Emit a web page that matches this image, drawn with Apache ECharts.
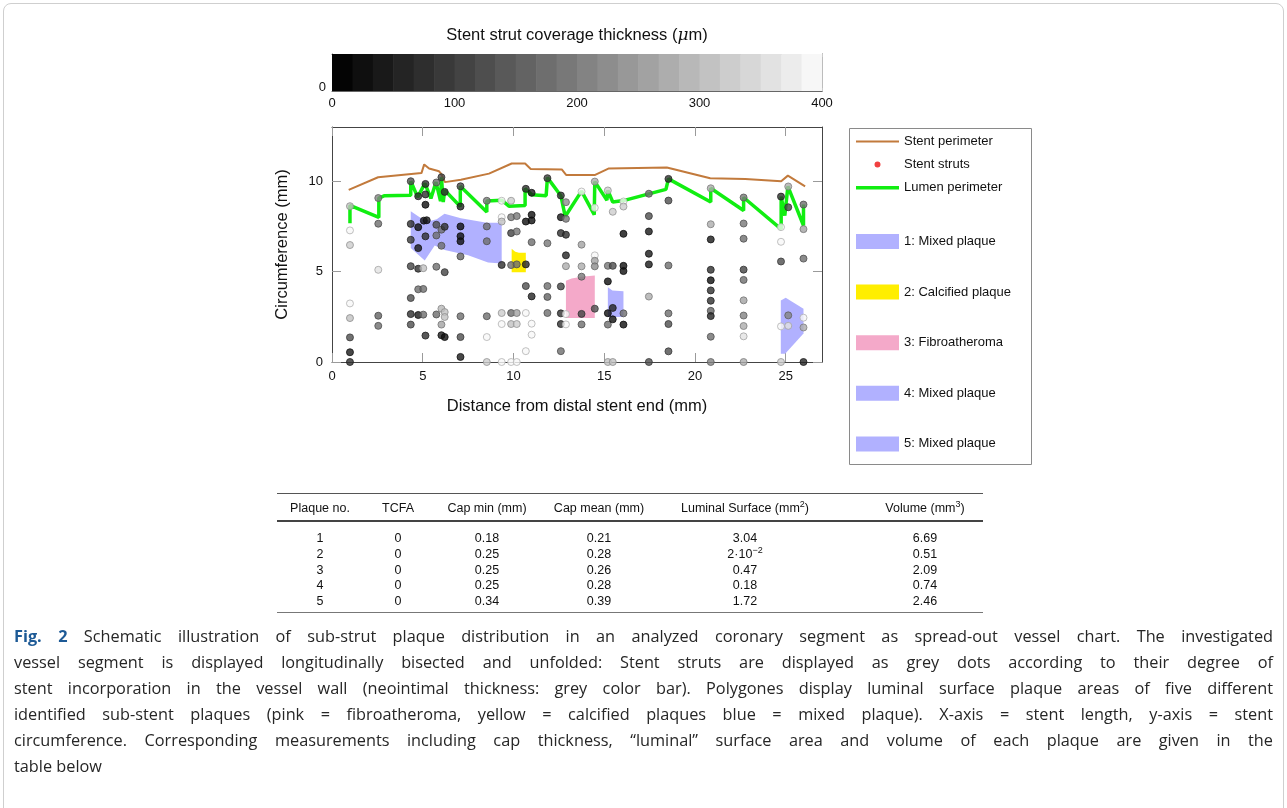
<!DOCTYPE html>
<html><head><meta charset="utf-8">
<script src="https://cdn.jsdelivr.net/npm/echarts@6/dist/echarts.min.js"></script>
<style>
html,body{margin:0;padding:0;background:#fff;}
#wrap{position:relative;width:1287px;height:808px;overflow:hidden;background:#fff;}
#frame{position:absolute;left:3px;top:3px;width:1279px;height:840px;border:1px solid #cfcfcf;border-radius:8px;}
#chart{position:absolute;left:0;top:0;width:1287px;height:808px;}
.cell{position:absolute;transform:translate(-50%,-50%);white-space:nowrap;font-family:"Liberation Sans",Arial,sans-serif;font-size:12.5px;color:#111;}
.cell sup{font-size:9px;vertical-align:5px;line-height:0;}
.rule{position:absolute;left:277px;width:706px;}
#caption{position:absolute;left:14px;top:623px;width:1259px;font-family:"Open Sans",sans-serif;font-size:16.3px;line-height:26px;color:#262626;}
#caption .ln{text-align:justify;text-align-last:justify;}
#caption .last{text-align:left;text-align-last:left;}
#caption b{color:#1d5a96;}
</style></head>
<body>
<div id="wrap">
<div id="frame"></div>
<div id="chart"></div>
<div id="table"></div>
<div id="caption"></div>
</div>
<script>
// ---------- data ----------
// stent struts: [distance (mm), circumference (mm), coverage thickness (um)]
const struts = [
 [0.99,8.62,300],[0.99,7.28,390],[0.99,6.47,320],[0.99,3.24,390],[0.99,2.43,300],[0.99,1.36,120],[0.99,0.54,40],[0.99,0,80],
 [2.55,9.07,200],[2.55,7.65,170],[2.55,5.1,350],[2.55,2.56,150],[2.55,2.0,170],
 [4.34,10.0,120],[4.34,7.64,80],[4.34,6.76,90],[4.34,5.3,100],[4.34,3.54,120],[4.34,2.65,80],[4.34,2.07,120],
 [4.75,9.17,80],[4.75,7.46,30],[4.75,6.3,40],[4.75,5.16,80],[4.75,4.02,170],[4.75,2.6,40],
 [5.03,5.19,300],[5.03,4.04,170],[5.03,2.62,170],
 [5.15,9.85,80],[5.15,9.27,80],[5.15,8.7,30],[5.06,7.82,40],[5.22,7.84,40],[5.15,6.95,80],[5.15,1.46,80],
 [5.75,9.93,170],[5.75,7.59,120],[5.75,7.0,170],[5.75,5.27,170],[5.75,2.63,180],
 [6.03,10.22,100],[6.03,7.32,170],[6.03,6.43,170],[6.03,2.95,290],[6.03,2.07,260],[6.03,1.48,40],
 [6.21,9.41,70],[6.21,7.48,80],[6.21,4.97,110],[6.21,2.76,300],[6.21,2.49,300],[6.21,1.38,30],
 [7.08,9.72,110],[7.08,8.6,60],[7.08,7.5,30],[7.08,6.96,30],[7.08,6.68,30],[7.08,5.84,150],[7.08,2.53,170],[7.08,1.38,120],[7.08,0.28,40],
 [8.53,8.92,190],[8.53,7.5,170],[8.53,6.68,170],[8.53,2.53,170],[8.53,1.38,390],[8.53,0,320],
 [9.35,8.92,390],[9.35,8.01,390],[9.35,7.77,300],[9.35,5.37,80],[9.35,2.71,320],[9.35,2.1,390],[9.35,0,390],
 [9.87,8.92,320],[9.87,8.01,190],[9.87,7.13,100],[9.87,5.36,170],[9.87,2.71,180],[9.87,2.1,300],[9.87,0,390],
 [10.18,8.07,190],[10.18,7.22,190],[10.18,5.4,170],[10.18,2.71,260],[10.18,2.1,320],[10.18,0,390],
 [10.68,9.58,80],[10.68,7.77,30],[10.68,5.4,50],[10.68,4.2,130],[10.68,2.71,390],[10.68,0.6,390],
 [11.0,9.36,40],[11.0,8.14,30],[11.0,7.83,30],[11.0,6.63,170],[11.0,3.63,60],[11.0,2.12,390],[11.0,1.51,390],
 [11.87,10.17,90],[11.87,6.57,190],[11.87,4.2,170],[11.87,3.6,150],[11.87,2.71,180],
 [12.61,9.21,80],[12.61,8.01,40],[12.61,7.13,80],[12.61,4.18,100],[12.61,2.69,80],[12.61,2.1,80],[12.61,0.6,170],
 [12.89,8.84,220],[12.89,7.92,190],[12.89,7.04,80],[12.89,5.9,50],[12.89,5.3,270],[12.89,2.65,390],[12.89,2.08,390],
 [13.75,9.43,390],[13.75,6.49,260],[13.75,5.29,270],[13.75,4.72,190],[13.75,2.66,100],[13.75,2.08,180],
 [14.48,9.98,270],[14.48,8.53,390],[14.48,5.9,390],[14.48,5.6,250],[14.48,5.29,230],[14.48,2.95,120],
 [15.2,9.49,320],[15.2,5.32,190],[15.2,4.46,30],[15.2,2.7,30],[15.2,2.07,170],[15.2,0,300],
 [15.47,8.31,320],[15.47,5.32,120],[15.47,2.99,60],[15.47,2.36,30],[15.47,0,300],
 [16.06,8.88,390],[16.06,8.6,320],[16.06,7.09,30],[16.06,5.32,30],[16.06,5.03,30],[16.06,2.69,170],[16.06,2.07,30],
 [17.46,9.31,170],[17.46,8.07,120],[17.46,7.22,40],[17.46,5.99,40],[17.46,5.4,40],[17.46,3.62,280],[17.46,0,120],
 [18.54,10.13,80],[18.54,8.93,120],[18.54,5.34,170],[18.54,2.69,170],[18.54,2.1,130],[18.54,0.59,120],
 [20.87,9.61,270],[20.87,7.62,270],[20.87,6.78,40],[20.87,5.1,70],[20.87,4.52,30],[20.87,3.96,70],[20.87,3.39,70],[20.87,2.83,150],[20.87,2.54,60],[20.87,1.4,170],[20.87,0,200],
 [22.68,9.1,190],[22.68,7.66,190],[22.68,6.82,170],[22.68,5.11,110],[22.68,4.54,170],[22.68,3.41,260],[22.68,2.57,200],[22.68,1.99,280],[22.68,1.42,350],[22.68,0,280],
 [24.74,9.15,80],[24.74,7.46,390],[24.74,6.65,390],[24.74,5.56,130],[24.74,1.97,390],[24.74,0,320],
 [25.14,9.71,280],[25.14,8.56,100],[25.14,2.58,200],[25.14,2.0,350],
 [25.98,8.71,170],[25.98,7.35,260],[25.98,5.72,170],[25.98,2.45,390],[25.98,1.91,270],[25.98,0,60]
];
const stentPerimeter = [[0.92,9.52],[2.54,10.22],[4.93,10.45],[5.08,10.93],[5.35,10.7],[5.9,10.55],[6.02,10.4],[6.22,9.95],[7.1,10.08],[8.65,10.42],[9.9,10.98],[10.64,10.98],[10.95,10.68],[12.66,10.65],[12.9,10.35],[14.5,10.35],[15.23,10.7],[18.45,10.76],[20.84,10.17],[22.77,10.13],[24.75,10.0],[25.12,10.31],[26.07,9.72]];
const lumenPerimeter = [[0.99,7.68],[0.99,8.66],[2.58,8.0],[2.58,9.07],[2.9,9.2],[4.34,9.22],[4.34,10.0],[4.72,9.12],[5.12,9.88],[5.45,9.05],[5.73,9.95],[5.98,8.9],[6.03,10.22],[6.13,8.85],[6.21,9.5],[7.07,8.6],[7.07,9.72],[8.53,8.3],[8.53,8.9],[9.35,8.95],[9.75,8.62],[10.64,8.66],[10.64,9.6],[11.0,9.25],[11.8,9.2],[11.87,10.2],[12.61,9.2],[12.85,8.05],[13.75,9.45],[14.45,8.15],[14.48,9.98],[15.15,8.95],[15.2,9.49],[15.47,8.85],[16.06,8.93],[17.46,9.3],[18.4,9.55],[18.54,10.13],[20.87,8.85],[20.87,9.61],[22.68,8.38],[22.68,9.1],[24.75,7.35],[24.75,9.15],[24.95,8.1],[25.12,9.71],[25.98,7.55],[25.98,8.71]];
const plaque1 = [[4.34,8.34],[4.85,8.0],[5.4,7.8],[5.77,7.9],[6.2,8.2],[7.1,7.95],[8.53,7.7],[9.35,7.7],[9.35,5.45],[8.6,5.5],[7.5,5.9],[6.21,6.2],[5.66,6.45],[5.11,5.62],[4.34,6.3]];
const plaque2 = [[9.9,6.27],[10.1,6.1],[10.3,6.05],[10.68,6.05],[10.68,4.97],[9.9,4.97]];
const plaque3 = [[12.89,4.5],[13.2,4.62],[13.75,4.72],[14.48,4.78],[14.48,2.43],[12.89,2.43]];
const plaque4 = [[15.2,4.14],[15.45,3.95],[16.06,3.92],[16.06,2.49],[15.2,2.49]];
const plaque5 = [[24.73,3.4],[25.0,3.55],[25.98,2.95],[25.98,1.57],[24.97,0.46],[24.73,0.46]];
const plaqueNames = ['1: Mixed plaque','2: Calcified plaque','3: Fibroatheroma','4: Mixed plaque','5: Mixed plaque'];
const xTicks = [0,5,10,15,20,25];
const yTicks = [0,5,10];
const cbTicks = [0,100,200,300,400];
const tableHeader = ['Plaque no.','TCFA','Cap min (mm)','Cap mean (mm)','Luminal Surface (mm<sup>2</sup>)','Volume (mm<sup>3</sup>)'];
const tableRows = [
 ['1','0','0.18','0.21','3.04','6.69'],
 ['2','0','0.25','0.28','2\u00b710<sup>\u22122</sup>','0.51'],
 ['3','0','0.25','0.26','0.47','2.09'],
 ['4','0','0.25','0.28','0.18','0.74'],
 ['5','0','0.34','0.39','1.72','2.46']
];
const captionLines = [
 '<b>Fig. 2</b> Schematic illustration of sub-strut plaque distribution in an analyzed coronary segment as spread-out vessel chart. The investigated',
 'vessel segment is displayed longitudinally bisected and unfolded: Stent struts are displayed as grey dots according to their degree of',
 'stent incorporation in the vessel wall (neointimal thickness: grey color bar). Polygones display luminal surface plaque areas of five different',
 'identified sub-stent plaques (pink = fibroatheroma, yellow = calcified plaques blue = mixed plaque). X-axis = stent length, y-axis = stent',
 'circumference. Corresponding measurements including cap thickness, \u201cluminal\u201d surface area and volume of each plaque are given in the',
 'table below'
];

// ---------- colour map (24-step grey) ----------
const CB_MAX = 400, CB_STEPS = 24;
function binOf(t){ return Math.max(0, Math.min(CB_STEPS-1, Math.floor(t/CB_MAX*CB_STEPS))); }
function greyLevel(bin){ return Math.round(4 + bin*(247-4)/(CB_STEPS-1)); }
function rgb(g){ return 'rgb('+g+','+g+','+g+')'; }
const cbData = [];
for (let i=0;i<CB_STEPS;i++) cbData.push([i*CB_MAX/CB_STEPS,(i+1)*CB_MAX/CB_STEPS,i]);

const FONT = '"Liberation Sans", Arial, sans-serif';
const strutData = struts.map(s => {
  const g = greyLevel(binOf(s[2]));
  return {value:s, itemStyle:{color:rgb(g), borderColor:rgb(Math.round(g*0.72)), borderWidth:1}};
});
function polySeries(name, pts, color){
  return {
    name, type:'custom', xAxisIndex:0, yAxisIndex:0, z:1,
    itemStyle:{color},
    encode:{x:0,y:1},
    data: pts,
    renderItem(params, api){
      if (params.dataIndex !== 0) return null;
      return {type:'polygon', shape:{points: pts.map(p=>api.coord(p))}, style:{fill:color}};
    }
  };
}
const plaqueColors = ['#b1b1ff','#ffee00','#f4a9c9','#b1b1ff','#b1b1ff'];
const plaques = [plaque1,plaque2,plaque3,plaque4,plaque5];
const STENT_COLOR = '#c27a3c', LUMEN_COLOR = '#11ee11';

const mainAxisLine = {show:true, onZero:false, lineStyle:{color:'#444', width:1}};
const cbAxisLine = {show:true, onZero:false, lineStyle:{color:'#666', width:1}};
const chart = echarts.init(document.getElementById('chart'), null, {renderer:'canvas'});
chart.setOption({
  animation:false,
  textStyle:{fontFamily:FONT},
  grid:[
    {left:332, top:127, width:490, height:235},
    {left:332, top:54, width:490, height:37}
  ],
  xAxis:[
    {gridIndex:0, type:'value', min:0, max:27, position:'bottom',
     axisLine:mainAxisLine, splitLine:{show:false},
     axisTick:{show:true, inside:true, length:9, customValues:xTicks, lineStyle:{color:'#9a9a9a'}},
     axisLabel:{customValues:xTicks, fontSize:13, color:'#111', margin:8, fontFamily:FONT},
     name:'Distance from distal stent end (mm)', nameLocation:'middle', nameGap:36,
     nameTextStyle:{fontSize:16.5, color:'#111', fontFamily:FONT}},
    {gridIndex:0, type:'value', min:0, max:27, position:'top',
     axisLine:mainAxisLine, splitLine:{show:false},
     axisTick:{show:true, inside:true, length:9, customValues:xTicks, lineStyle:{color:'#9a9a9a'}},
     axisLabel:{show:false}},
    {gridIndex:1, type:'value', min:0, max:CB_MAX, position:'bottom',
     axisLine:cbAxisLine, splitLine:{show:false},
     axisTick:{show:true, inside:true, length:3, customValues:cbTicks, lineStyle:{color:'#888'}},
     axisLabel:{customValues:cbTicks, fontSize:13, color:'#111', margin:6, fontFamily:FONT}},
    {gridIndex:1, type:'value', min:0, max:CB_MAX, position:'top',
     axisLine:cbAxisLine, splitLine:{show:false},
     axisTick:{show:true, inside:true, length:3, customValues:cbTicks, lineStyle:{color:'#888'}},
     axisLabel:{show:false},
     name:'{a|Stent strut coverage thickness (}{b|\u03bc}{a|m)}', nameLocation:'middle', nameGap:10,
     nameTextStyle:{rich:{a:{fontSize:16.5,color:'#111',fontFamily:FONT}, b:{fontSize:17,color:'#111',fontStyle:'italic',fontFamily:'"DejaVu Serif", serif'}}}}
  ],
  yAxis:[
    {gridIndex:0, type:'value', min:0, max:13, position:'left',
     axisLine:mainAxisLine, splitLine:{show:false},
     axisTick:{show:true, inside:true, length:9, customValues:yTicks, lineStyle:{color:'#9a9a9a'}},
     axisLabel:{customValues:yTicks, fontSize:13, color:'#111', margin:9, fontFamily:FONT},
     name:'Circumference (mm)', nameLocation:'middle', nameGap:41,
     nameTextStyle:{fontSize:16.5, color:'#111', fontFamily:FONT}},
    {gridIndex:0, type:'value', min:0, max:13, position:'right',
     axisLine:mainAxisLine, splitLine:{show:false},
     axisTick:{show:true, inside:true, length:9, customValues:yTicks, lineStyle:{color:'#9a9a9a'}},
     axisLabel:{show:false}},
    {gridIndex:1, type:'value', min:-0.1, max:1, position:'left',
     axisLine:cbAxisLine, splitLine:{show:false},
     axisTick:{show:false},
     axisLabel:{customValues:[0], fontSize:13, color:'#111', margin:6, fontFamily:FONT}},
    {gridIndex:1, type:'value', min:-0.1, max:1, position:'right',
     axisLine:cbAxisLine, splitLine:{show:false},
     axisTick:{show:false}, axisLabel:{show:false}}
  ],
  legend:[
    {data:[
       {name:'Stent perimeter', icon:'path://M0,0L43,0L43,2L0,2Z', itemStyle:{color:STENT_COLOR}},
       {name:'Stent struts', icon:'path://M0,0L0.01,0L0.01,0.01ZM43,14L42.99,14L42.99,13.99ZM18.5,7A3,3,0,1,1,24.5,7A3,3,0,1,1,18.5,7Z', itemStyle:{color:'#ee1111', borderWidth:0}},
       {name:'Lumen perimeter', icon:'path://M0,0L43,0L43,3.5L0,3.5Z', itemStyle:{color:LUMEN_COLOR}}
     ],
     left:856, top:135, orient:'vertical', padding:0, itemWidth:43, itemHeight:14, itemGap:9.6, selectedMode:false,
     textStyle:{fontSize:13, color:'#111', fontFamily:FONT}},
    {data:plaqueNames.map(n=>({name:n, icon:'rect'})), left:856, top:234, orient:'vertical', padding:0, itemWidth:43, itemHeight:15, itemGap:35.6, selectedMode:false,
     textStyle:{fontSize:13, color:'#111', fontFamily:FONT}}
  ],
  graphic:[
    {type:'rect', left:847, top:126, shape:{width:182, height:336}, style:{fill:'none', stroke:'#8a8a8a', lineWidth:1}, z:0}
  ],
  series:[
    {type:'custom', name:'colorbar', xAxisIndex:2, yAxisIndex:2, encode:{x:[0,1]}, data:cbData, silent:true,
     renderItem(params, api){
       const p0 = api.coord([api.value(0), 1]);
       const p1 = api.coord([api.value(1), -0.1]);
       return {type:'rect', shape:{x:p0[0], y:p0[1], width:p1[0]-p0[0]+0.6, height:p1[1]-p0[1]},
               style:{fill:rgb(greyLevel(api.value(2)))}};
     }},
    ...plaqueNames.map((n,i)=>polySeries(n, plaques[i], plaqueColors[i])),
    {name:'Stent perimeter', type:'line', xAxisIndex:0, yAxisIndex:0, data:stentPerimeter, symbol:'none', z:2,
     lineStyle:{color:STENT_COLOR, width:2}, itemStyle:{color:STENT_COLOR}},
    {name:'Lumen perimeter', type:'line', xAxisIndex:0, yAxisIndex:0, data:lumenPerimeter, symbol:'none', z:3,
     lineStyle:{color:LUMEN_COLOR, width:3.5}, itemStyle:{color:LUMEN_COLOR}},
    {name:'Stent struts', type:'scatter', xAxisIndex:0, yAxisIndex:0, data:strutData, symbol:'circle', symbolSize:7, z:4,
     itemStyle:{color:'#ee1111'}}
  ]
});

// ---------- table ----------
const colX = [320, 398, 487, 599, 745, 925];
const headerY = 508, rowY0 = 538, rowStep = 15.8;
const tbl = document.getElementById('table');
let html = '';
html += '<div class="rule" style="top:493px;height:1px;background:#555"></div>';
html += '<div class="rule" style="top:520px;height:2px;background:#444"></div>';
html += '<div class="rule" style="top:612px;height:1px;background:#777"></div>';
tableHeader.forEach((h,j)=>{ html += '<div class="cell" style="left:'+colX[j]+'px;top:'+headerY+'px">'+h+'</div>'; });
tableRows.forEach((r,i)=>{ r.forEach((v,j)=>{ html += '<div class="cell" style="left:'+colX[j]+'px;top:'+(rowY0+i*rowStep)+'px">'+v+'</div>'; }); });
tbl.innerHTML = html;

document.getElementById('caption').innerHTML = captionLines.map((l,i)=>'<div class="ln'+(i===captionLines.length-1?' last':'')+'">'+l+'</div>').join('');
</script>
</body></html>
